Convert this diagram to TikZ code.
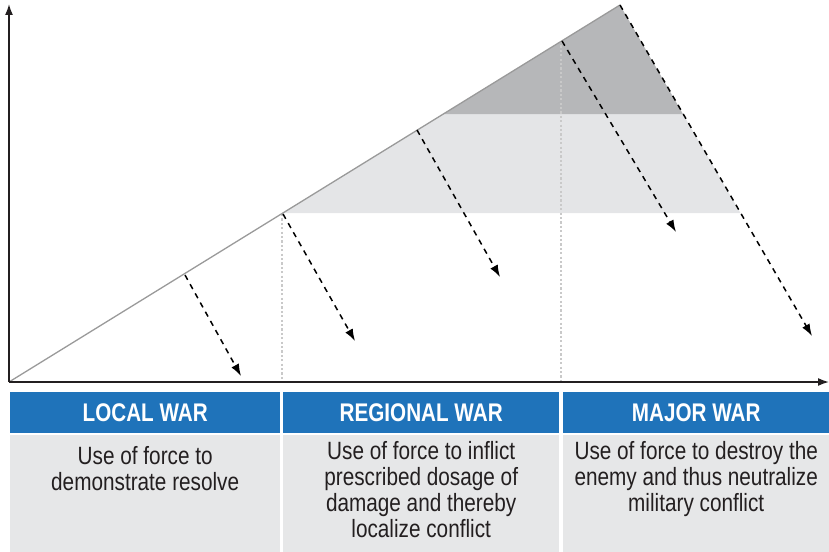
\documentclass[tikz,border=0pt]{standalone}
\usepackage{fontspec}
\setmainfont{Liberation Sans}[FakeStretch=0.83]
\newfontfamily\hdrfont{Liberation Sans}[FakeStretch=0.81]
\usetikzlibrary{arrows.meta}
\definecolor{warblue}{HTML}{1F73BA}
\definecolor{bandlight}{HTML}{E4E5E7}
\definecolor{banddark}{HTML}{B6B7B9}
\definecolor{cellgray}{HTML}{E6E7E8}
\definecolor{diagline}{HTML}{9A9A9A}
\definecolor{dotline}{HTML}{C9C9C9}
\definecolor{inkc}{HTML}{231F20}
\tikzset{
  axisline/.style={line width=1.6pt, draw=inkc, -{Latex[length=11pt,width=8pt]}},
  flowarrow/.style={line width=1.5pt, draw=black, dash pattern=on 5.5pt off 5pt, -{Latex[length=12pt,width=8.5pt]}},
  guide/.style={line width=2.4pt, draw=dotline, dash pattern=on 2.2pt off 2.2pt},
  hdr/.style={fill=warblue, text=white, inner sep=0pt, anchor=north west, minimum height=41pt,
     font=\hdrfont\bfseries\fontsize{25.5}{27}\selectfont},
  cell/.style={fill=cellgray, inner sep=0pt, anchor=north west, minimum height=117pt},
  bodytxt/.style={text=inkc, inner sep=0pt, anchor=north, align=center,
     font=\fontsize{25}{26}\selectfont},
}
\begin{document}
\begin{tikzpicture}[x=1pt,y=-1pt]
\useasboundingbox (0,0) rectangle (829,551);
% key points
\coordinate (O) at (9,382);
\coordinate (A) at (620,5);
\coordinate (Ytip) at (9,4);
\coordinate (Xtip) at (829,382);
\coordinate (L1) at (443,114);
\coordinate (L2) at (282.5,213);
\coordinate (R1) at (683,114);
\coordinate (R2) at (740.5,213);
% bands
\fill[bandlight] (L2) -- (L1) -- (R1) -- (R2) -- cycle;
\fill[banddark] (L1) -- (A) -- (R1) -- cycle;
% dotted guides
\coordinate (G1t) at (282,214);
\coordinate (G1b) at (282,381);
\coordinate (G2t) at (561,41);
\coordinate (G2b) at (561,381);
\draw[guide] (G1t) -- (G1b);
\draw[guide] (G2t) -- (G2b);
% diagonal
\draw[diagline, line width=1.3pt] (O) -- (A);
% dashed arrows
\coordinate (s1) at (185,275);  \coordinate (e1) at (241,376);
\coordinate (s2) at (283,214);  \coordinate (e2) at (355,341);
\coordinate (s3) at (417,130);  \coordinate (e3) at (500,277);
\coordinate (s4) at (562,41);   \coordinate (e4) at (676,232);
\coordinate (e5) at (812,336);
\draw[flowarrow] (s1) -- (e1);
\draw[flowarrow] (s2) -- (e2);
\draw[flowarrow] (s3) -- (e3);
\draw[flowarrow] (s4) -- (e4);
\draw[flowarrow] (A) -- (e5);
% axes
\draw[axisline] (O) -- (Ytip);
\draw[axisline] (O) -- (Xtip);
% table
\node[hdr, minimum width=270pt] (h1) at (10,392) {LOCAL WAR};
\node[hdr, minimum width=276pt] (h2) at (283,392) {REGIONAL WAR};
\node[hdr, minimum width=266pt] (h3) at (563,392) {MAJOR WAR};
\node[cell, minimum width=270pt] (c1) at (10,435) {};
\node[cell, minimum width=276pt] (c2) at (283,435) {};
\node[cell, minimum width=266pt] (c3) at (563,435) {};
\node[bodytxt] (t1) at (h1.south |- 0,446) {Use of force to\\demonstrate resolve};
\node[bodytxt] (t2) at (h2.south |- 0,441) {Use of force to inflict\\prescribed dosage of\\damage and thereby\\localize conflict};
\node[bodytxt] (t3) at (h3.south |- 0,441) {Use of force to destroy the\\enemy and thus neutralize\\military conflict};
\end{tikzpicture}
\end{document}
